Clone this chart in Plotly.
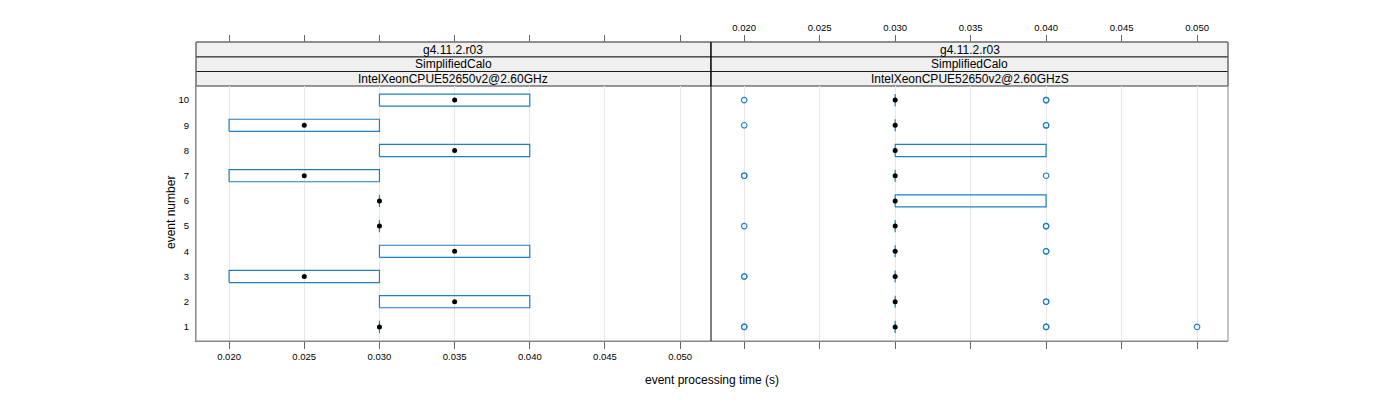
import plotly.graph_objects as go

# event numbers and box statistics (seconds)
events = [1, 2, 3, 4, 5, 6, 7, 8, 9, 10]
tick_vals = [0.020, 0.025, 0.030, 0.035, 0.040, 0.045, 0.050]
tick_text = ["0.020", "0.025", "0.030", "0.035", "0.040", "0.045", "0.050"]

left_q1 = [0.030, 0.030, 0.020, 0.030, 0.030, 0.030, 0.020, 0.030, 0.020, 0.030]
left_q3 = [0.030, 0.040, 0.030, 0.040, 0.030, 0.030, 0.030, 0.040, 0.030, 0.040]
left_med = [0.030, 0.035, 0.025, 0.035, 0.030, 0.030, 0.025, 0.035, 0.025, 0.035]

right_q1 = [0.030, 0.030, 0.030, 0.030, 0.030, 0.030, 0.030, 0.030, 0.030, 0.030]
right_q3 = [0.030, 0.030, 0.030, 0.030, 0.030, 0.040, 0.030, 0.040, 0.030, 0.030]
right_med = [0.030, 0.030, 0.030, 0.030, 0.030, 0.030, 0.030, 0.030, 0.030, 0.030]

# outliers of the right panel (repeated values are overplotted)
right_out = {
    1: [0.020, 0.020, 0.040, 0.040, 0.050],
    2: [0.040, 0.040],
    3: [0.020, 0.020],
    4: [0.040, 0.040],
    5: [0.020, 0.040, 0.040],
    6: [],
    7: [0.020, 0.020, 0.040],
    8: [],
    9: [0.020, 0.040, 0.040],
    10: [0.020, 0.040, 0.040],
}

strip_left = ["g4.11.2.r03", "SimplifiedCalo", "IntelXeonCPUE52650v2@2.60GHz"]
strip_right = ["g4.11.2.r03", "SimplifiedCalo", "IntelXeonCPUE52650v2@2.60GHzS"]

BLUE = "#1f7fc2"
W, H = 1400, 400
OFF = 8  # page body margin
px = lambda x: (x - OFF) / W
py = lambda y: 1 - (y - OFF) / H

xl0, xm, xr1 = px(196), px(711), px(1228)
yb, yt = py(341), py(86)
strip_edges = [py(86), py(71.5), py(57), py(42)]

xrange_ = [0.0178, 0.05205]
yrange_ = [0.44, 10.56]
hh = 0.24


def box_path(q1, q3):
    xs, ys = [], []
    for e, a, b in zip(events, q1, q3):
        xs += [a, b, b, a, a, None]
        ys += [e - hh, e - hh, e + hh, e + hh, e - hh, None]
    return xs, ys


fig = go.Figure()
for xa, ya, q1, q3, med in [("x", "y", left_q1, left_q3, left_med),
                            ("x2", "y2", right_q1, right_q3, right_med)]:
    bx, by = box_path(q1, q3)
    fig.add_trace(go.Scatter(x=bx, y=by, xaxis=xa, yaxis=ya, mode="lines",
                             line=dict(color=BLUE, width=1.2), hoverinfo="skip", showlegend=False))
    fig.add_trace(go.Scatter(x=med, y=events, xaxis=xa, yaxis=ya, mode="markers",
                             marker=dict(color="black", size=5), showlegend=False))

ox, oy = [], []
for e in events:
    for v in right_out[e]:
        ox.append(v)
        oy.append(e)
fig.add_trace(go.Scatter(x=ox, y=oy, xaxis="x2", yaxis="y2", mode="markers",
                         marker=dict(symbol="circle-open", color=BLUE, size=5.5, line=dict(width=1.1)),
                         showlegend=False))
# dummy traces for top tick axes
fig.add_trace(go.Scatter(x=[None], y=[None], xaxis="x3", yaxis="y", showlegend=False))
fig.add_trace(go.Scatter(x=[None], y=[None], xaxis="x4", yaxis="y2", showlegend=False))

tickfont = dict(family="Liberation Sans, Arial", size=9.5, color="black")
common = dict(range=xrange_, tickvals=tick_vals, ticktext=tick_text, ticks="outside", ticklen=7,
              tickcolor="#666", tickfont=tickfont, zeroline=False, automargin=False)
fig.update_layout(
    width=W, height=H, margin=dict(l=0, r=0, t=0, b=0),
    plot_bgcolor="white", paper_bgcolor="white",
    xaxis=dict(domain=[xl0, xm], anchor="y", showgrid=True, gridcolor="#e8e8e8",
               showline=True, linecolor="#888", **common),
    xaxis2=dict(domain=[xm, xr1], anchor="y2", showgrid=True, gridcolor="#e8e8e8",
                showline=True, linecolor="#888", showticklabels=False, **common),
    xaxis3=dict(domain=[xl0, xm], overlaying="x", anchor="free", position=strip_edges[3], side="top",
                showgrid=False, showticklabels=False, **common),
    xaxis4=dict(domain=[xm, xr1], overlaying="x2", anchor="free", position=strip_edges[3], side="top",
                showgrid=False, showticklabels=True, **common),
    yaxis=dict(domain=[yb, yt], anchor="x", range=yrange_, tickvals=events,
               ticktext=[str(e) for e in events], ticks="", tickfont=tickfont, automargin=False,
               showgrid=False, zeroline=False, showline=True, linecolor="#888", ticklabelstandoff=4),
    yaxis2=dict(domain=[yb, yt], anchor="x2", range=yrange_, showticklabels=False, ticks="",
                automargin=False, showgrid=False, zeroline=False, showline=False),
)

shapes = []
# outer frame (gray) and panel divider (black)
shapes.append(dict(type="rect", xref="paper", yref="paper", x0=xl0, x1=xr1, y0=yb, y1=strip_edges[3],
                   line=dict(color="#888", width=1)))
shapes.append(dict(type="line", xref="paper", yref="paper", x0=xm, x1=xm, y0=yb, y1=strip_edges[3],
                   line=dict(color="black", width=1)))
annots = []
sfont = dict(family="Liberation Sans, Arial", size=12, color="black")
tfont = dict(family="Liberation Sans, Arial", size=12, color="black")
for (a, b, labels) in [(xl0, xm, strip_left), (xm, xr1, strip_right)]:
    for i, lab in enumerate(labels):
        y1 = strip_edges[3 - i]
        y0 = strip_edges[2 - i]
        shapes.append(dict(type="rect", xref="paper", yref="paper", x0=a, x1=b, y0=y0, y1=y1,
                           fillcolor="#f0f0f0", line=dict(color="black", width=0.8), layer="below"))
        annots.append(dict(text=lab, x=(a + b) / 2, y=(y0 + y1) / 2, xref="paper", yref="paper",
                           xanchor="center", yanchor="middle", showarrow=False, font=sfont))
annots.append(dict(text="event processing time (s)", x=px(712), y=py(380), xref="paper", yref="paper",
                   xanchor="center", yanchor="middle", showarrow=False, font=tfont))
annots.append(dict(text="event number", x=px(171), y=py(213), xref="paper", yref="paper", textangle=-90,
                   xanchor="center", yanchor="middle", showarrow=False, font=tfont))
fig.update_layout(shapes=shapes, annotations=annots)

fig.write_html("out.html")
